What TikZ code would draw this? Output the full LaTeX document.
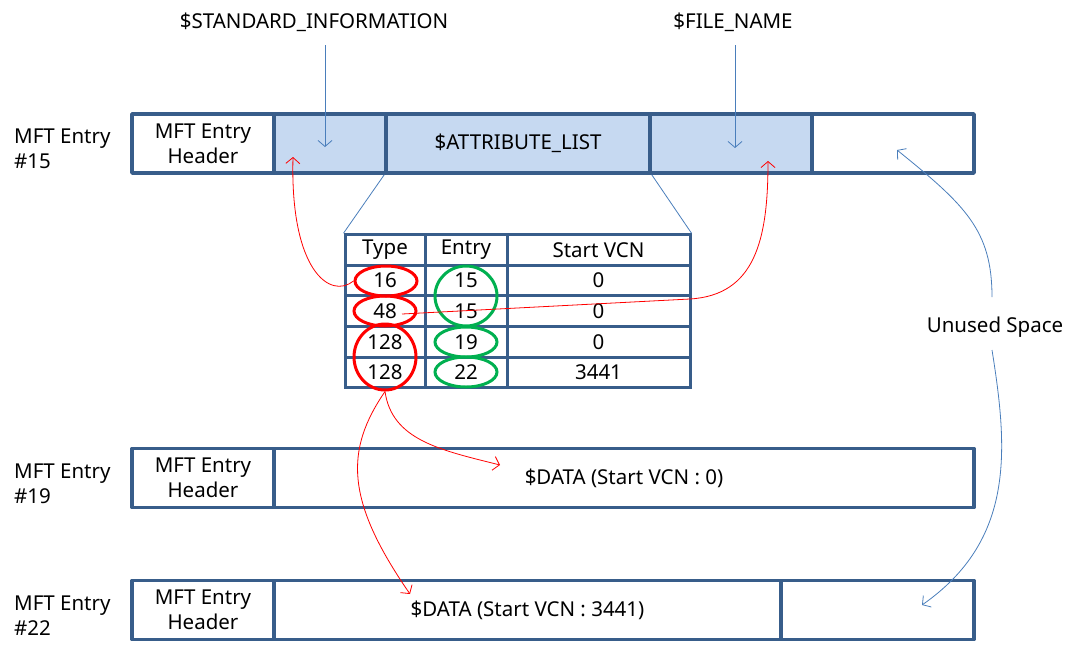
\documentclass[tikz,border=0pt]{standalone}
\usepackage{fontspec}
\setmainfont{Noto Sans}
\usepackage{xcolor}
\definecolor{mftline}{HTML}{385D8A}
\definecolor{mftfill}{HTML}{C6D9F1}
\definecolor{thinblue}{HTML}{4A7EBB}
\definecolor{ringgreen}{HTML}{00B050}
\usepackage{tikz}
\usetikzlibrary{positioning,arrows.meta,shapes.geometric,calc}

\begin{document}
\begin{tikzpicture}[x=1pt,y=-1pt,
    every node/.style={font=\fontsize{20.5}{25}\selectfont},
    cell/.style={draw=mftline, line width=3.5pt, line join=round,
                 minimum height=59pt, inner sep=0pt, align=center},
    attr/.style={cell, fill=mftfill},
    tcell/.style={draw=mftline, line width=3pt, minimum height=30.6pt,
                  inner sep=0pt},
    lbl/.style={anchor=west, align=left, inner sep=0pt},
    redring/.style={ellipse, draw=red, line width=3pt, inner sep=0pt},
    greenring/.style={ellipse, draw=ringgreen, line width=3pt, inner sep=0pt},
    bluearr/.style={draw=thinblue, line width=0.8pt,
                    -{Straight Barb[length=6pt,width=14pt]}},
    redarr/.style={draw=red, line width=0.8pt,
                   -{Straight Barb[length=6pt,width=14pt]}},
    link/.style={draw=thinblue, line width=0.8pt}]
  \useasboundingbox (0,0) rectangle (1076,654);

  % MFT entry #15
  \node[lbl] (l15) at (14,149) {MFT Entry\\\#15};
  \node[cell, minimum width=142pt] (h15) at (203,143.5) {MFT Entry\\Header};
  \node[attr, minimum width=112pt] (stdinfo) at (330,143.5) {};
  \node[attr, minimum width=264pt] (attrlist) at (518,143.5) {\$ATTRIBUTE\_LIST};
  \node[attr, minimum width=162pt] (fname) at (731,143.5) {};
  \node[cell, minimum width=162pt] (free15) at (893,143.5) {};

  % MFT entry #19
  \node[lbl] (l19) at (14,484) {MFT Entry\\\#19};
  \node[cell, minimum width=142pt] (h19) at (203,478) {MFT Entry\\Header};
  \node[cell, minimum width=700pt] (data19) at (624,478) {\$DATA (Start VCN : 0)};

  % MFT entry #22
  \node[lbl] (l22) at (14,616) {MFT Entry\\\#22};
  \node[cell, minimum width=142pt] (h22) at (203,610) {MFT Entry\\Header};
  \node[cell, minimum width=507pt] (data22) at (527.5,610) {\$DATA (Start VCN : 3441)};
  \node[cell, minimum width=193pt] (free22) at (877.5,610) {};

  % attribute list table
  \foreach \y/\a/\b/\c [count=\i] in {250/Type/Entry/Start VCN, 280.6/16/15/0,
      311.2/48/15/0, 341.8/128/19/0, 372.4/128/22/3441} {
    \node[tcell, minimum width=80pt]  (ta\i) at (385,\y) {\a};
    \node[tcell, minimum width=82pt]  (tb\i) at (466,\y) {\b};
    \node[tcell, minimum width=183pt] (tc\i) at (598.5,\y) {\c};
  }
  \draw[link] (attrlist.south west) -- (ta1.north west);
  \draw[link] (attrlist.south east) -- (tc1.north east);

  % rings
  \node[redring, minimum width=62pt, minimum height=30pt] (r16) at (386,281) {};
  \node[redring, minimum width=62pt, minimum height=30pt] (r48) at (385,311) {};
  \node[redring, minimum width=62pt, minimum height=66pt] (r128) at (385,357) {};
  \node[greenring, minimum width=62pt, minimum height=60pt] (g15) at (466,296) {};
  \node[greenring, minimum width=62pt, minimum height=30pt] (g19) at (466,342) {};
  \node[greenring, minimum width=62pt, minimum height=30pt] (g22) at (466,372) {};

  % top labels
  \node (stdlbl) at (314,22) {\$STANDARD\_INFORMATION};
  \node (fnlbl) at (733,22) {\$FILE\_NAME};
  \coordinate (siend) at (325,147);
  \coordinate (fnend) at (735,148);
  \draw[bluearr] (siend |- 0,45) -- (siend);
  \draw[bluearr] (fnend |- 0,45) -- (fnend);

  % unused space
  \node (unused) at (995,327) {Unused Space};
  \coordinate (u15) at (897,150);
  \coordinate (u22) at (922,605);
  \draw[bluearr] (992,297) .. controls (992,230) and (965,205) .. (u15);
  \draw[bluearr] (992,350) .. controls (1008,450) and (1015,540) .. (u22);

  % red pointers
  \coordinate (sitgt) at (293,157);
  \coordinate (fntgt) at (768,161);
  \coordinate (d19) at (500,465);
  \coordinate (d22) at (410,594);
  \draw[redarr] (r16.west) .. controls (330,300) and (290,270) .. (sitgt);
  \draw[redarr] (402,314) -- (690,299) .. controls (755,295) and (768,240) .. (fntgt);
  \draw[redarr] (r128.south) .. controls (392,440) and (440,450) .. (d19);
  \draw[redarr] (r128.south) .. controls (345,450) and (345,500) .. (d22);
\end{tikzpicture}
\end{document}
